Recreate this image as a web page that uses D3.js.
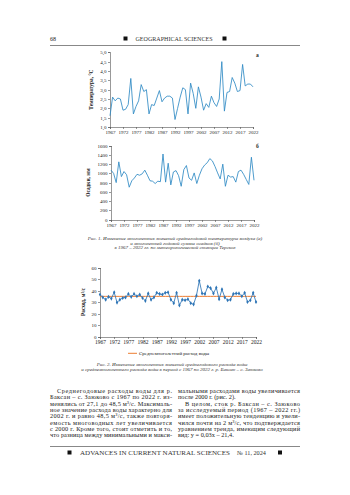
<!DOCTYPE html>
<html lang="ru">
<head>
<meta charset="UTF-8">
<title>Figures 1-2</title>
<script src="https://d3js.org/d3.v7.min.js"></script>
<style>
  body { margin: 0; background: #fff; }
  svg { display: block; background: #fff; font-family: "Liberation Serif", "DejaVu Serif", serif; }
  .axis path, .axis line { stroke: #555; stroke-width: 0.6; shape-rendering: crispEdges; }
  .axis text { fill: #222; font-size: 5px; font-family: "Liberation Serif", serif; }
  .ytitle { font-size: 5.4px; font-weight: bold; fill: #222; }
  .caption { font-size: 5px; font-style: italic; fill: #333; text-anchor: middle; }
  .body { font-size: 6.3px; fill: #222; }
</style>
</head>
<body>
<svg width="350" height="495"></svg>
<script>
// --- data ---
const years = [1967,1968,1969,1970,1971,1972,1973,1974,1975,1976,
  1977,1978,1979,1980,1981,1982,1983,1984,1985,1986,
  1987,1988,1989,1990,1991,1992,1993,1994,1995,1996,
  1997,1998,1999,2000,2001,2002,2003,2004,2005,2006,
  2007,2008,2009,2010,2011,2012,2013,2014,2015,2016,
  2017,2018,2019,2020,2021,2022];
const yearTicks = [1967,1972,1977,1982,1987,1992,1997,2002,2007,2012,2017,2022];

// mean annual air temperature, °C
const temperature = [1.6,2.6,2.4,2.55,2.5,1.9,1.95,2.2,3.6,1.7,
  2.1,2.4,3.27,2.9,3.0,1.7,2.2,2.15,2.55,2.95,
  2.35,2.55,2.65,2.65,2.55,1.4,2.0,2.6,3.1,3.0,
  1.7,3.35,2.8,2.0,3.15,2.6,1.9,2.25,2.05,2.65,
  2.3,2.1,2.5,4.5,1.85,2.85,2.9,3.65,3.35,2.9,
  2.95,4.35,3.2,3.3,3.3,3.15];
const tempTicks = [1.0,1.5,2.0,2.5,3.0,3.5,4.0,4.5,5.0];

// annual precipitation, mm
const precipitation = [1070,1000,800,1250,930,1040,970,700,840,900,
  980,960,990,1070,960,840,830,780,830,820,
  1420,810,1220,750,1030,1060,950,720,1080,1170,
  900,850,1010,780,960,1100,1180,1230,1320,1270,
  1150,1010,880,1200,720,960,920,930,810,1040,
  1070,980,870,760,1350,850];
const precipTicks = [0,200,400,600,800,1000,1200,1400,1600];

// mean annual water discharge, m3/s
const discharge = [36.5,34,32,34.5,33,38.5,29.5,32,33.5,34,
  37,34.5,37,35,36.5,33.5,31,37.5,32,34,
  38,37,36.5,38,38.5,32,29,38,27.1,32,
  31.5,32.5,29,28,35.5,48.5,37.5,37,43.5,42,
  37.5,42.5,32.5,41,34,31.5,32,37,37.5,37.5,
  35,38,30,31.5,38,30];
const dischargeMean = [34.9];
const dischargeTicks = [0,10,20,30,40,50,60];

const svg = d3.select("svg");
const comma = d => d3.format(".1f")(d).replace(".", ",");

// --- page header ---
svg.append("text").attr("class", "body").attr("x", 50).attr("y", 41).style("font-size", "6px").text("68");
svg.append("rect").attr("x", 123.5).attr("y", 36.5).attr("width", 4).attr("height", 4).attr("fill", "#111");
svg.append("text").attr("x", 135.5).attr("y", 41).style("font-size", "6.2px").attr("fill", "#333")
  .attr("textLength", 77).attr("lengthAdjust", "spacingAndGlyphs").text("GEOGRAPHICAL SCIENCES");
svg.append("rect").attr("x", 222.5).attr("y", 36.5).attr("width", 4).attr("height", 4).attr("fill", "#111");
svg.append("line").attr("x1", 50).attr("x2", 300).attr("y1", 45.5).attr("y2", 45.5)
  .attr("stroke", "#888").attr("stroke-width", 1);

// --- generic panel ---
function drawPanel(opt) {
  const x = d3.scaleLinear().domain([1967, 2022]).range([opt.x0, opt.x1]);
  const y = d3.scaleLinear().domain(opt.domain).range([opt.y0, opt.y1]);

  svg.append("g").attr("class", "axis")
    .attr("transform", `translate(${opt.x0},0)`)
    .call(d3.axisLeft(y).tickValues(opt.ticks).tickSize(2).tickPadding(1.5).tickFormat(opt.fmt));

  const xa = svg.append("g").attr("class", "axis")
    .attr("transform", `translate(0,${opt.y0})`)
    .call(d3.axisBottom(x).tickValues(yearTicks).tickSize(2).tickPadding(1.5).tickFormat(d3.format("d")));
  if (opt.xFont) xa.selectAll("text").style("font-size", opt.xFont);

  svg.append("text").attr("class", "ytitle")
    .attr("transform", `translate(${opt.titleX},${(opt.y0 + opt.y1) / 2}) rotate(-90)`)
    .attr("text-anchor", "middle").text(opt.title);

  if (opt.mean) {
    svg.append("path")
      .datum(years)
      .attr("fill", "none").attr("stroke", "#ED7D31").attr("stroke-width", 1)
      .attr("d", d3.line().x(d => x(d)).y(() => y(opt.mean[0])));
  }

  svg.append("path")
    .datum(opt.values)
    .attr("fill", "none").attr("stroke", opt.color).attr("stroke-width", 0.85)
    .attr("stroke-linejoin", "round")
    .attr("d", d3.line().x((d, i) => x(years[i])).y(d => y(d)));

  if (opt.markers) {
    svg.append("g").selectAll("path")
      .data(opt.values)
      .join("path")
      .attr("transform", (d, i) => `translate(${x(years[i])},${y(d)})`)
      .attr("d", d3.symbol(d3.symbolDiamond, 5))
      .attr("fill", opt.color);
  }

  if (opt.letter) {
    svg.append("text").attr("x", opt.letter[0]).attr("y", opt.letter[1])
      .style("font-size", "5.5px").style("font-weight", "bold").attr("fill", "#222").text(opt.letter[2]);
  }
  return { x, y };
}

drawPanel({ values: temperature, domain: [1, 5], ticks: tempTicks, fmt: comma,
  x0: 110, x1: 253, y0: 127, y1: 52.3, title: "Температура, °C", titleX: 93,
  color: "#2F8AC4", letter: [256, 57, "а"] });

drawPanel({ values: precipitation, domain: [0, 1600], ticks: precipTicks, fmt: d3.format("d"),
  x0: 111, x1: 254, y0: 219.5, y1: 145.7, title: "Осадки, мм", titleX: 90,
  color: "#2F8AC4", letter: [256, 148, "б"] });

// caption 1
const cap1 = ["Рис. 1. Изменение многолетних значений среднегодовой температуры воздуха (а)",
  "и многолетней годовой суммы осадков (б)",
  "в 1967 – 2022 гг. по метеорологической станции Терскол"];
svg.append("g").selectAll("text").data(cap1).join("text")
  .attr("class", "caption").attr("x", 175).attr("y", (d, i) => 240 + i * 4.6).text(d => d);

drawPanel({ values: discharge, domain: [0, 60], ticks: dischargeTicks, fmt: d3.format("d"),
  x0: 100, x1: 256, y0: 336.5, y1: 267.5, title: "Расход, м³/с", titleX: 85,
  color: "#2E75B6", markers: true, mean: dischargeMean, xFont: "5.5px" });

// legend
svg.append("line").attr("x1", 128).attr("x2", 137).attr("y1", 353.3).attr("y2", 353.3)
  .attr("stroke", "#ED7D31").attr("stroke-width", 1);
svg.append("text").attr("x", 139).attr("y", 355).style("font-size", "5px").attr("fill", "#222")
  .text("Среднемноголетний расход воды");

// caption 2
const cap2 = ["Рис. 2. Изменение многолетних значений среднегодового расхода воды",
  "и среднемноголетнего расхода воды в период с 1967 по 2022 г. р. Баксан – с. Заюково"];
svg.append("g").selectAll("text").data(cap2).join("text")
  .attr("class", "caption").attr("x", 172).attr("y", (d, i) => 366 + i * 5).text(d => d);

// --- body text, two justified columns ---
const col1 = [
  ["Среднегодовые расходы воды для р.", true, false],
  ["Баксан – с. Заюково с 1967 по 2022 г. из-", false, false],
  ["менялись от 27,1 до 48,5 м³/с. Максималь-", false, false],
  ["ное значение расхода воды характерно для", false, false],
  ["2002 г. и равно 48,5 м³/с, также повторя-", false, false],
  ["емость многоводных лет увеличивается", false, false],
  ["с 2000 г. Кроме того, стоит отметить и то,", false, false],
  ["что разница между минимальными и макси-", false, false]];
const col2 = [
  ["мальными расходами воды увеличивается", false, false],
  ["после 2000 г. (рис. 2).", false, true],
  ["В целом, сток р. Баксан – с. Заюково", true, false],
  ["за исследуемый период (1967 – 2022 гг.)", false, false],
  ["имеет положительную тенденцию и увели-", false, false],
  ["чился почти на 2 м³/с, что подтверждается", false, false],
  ["уравнением тренда, имеющим следующий", false, false],
  ["вид: y = 0,03x – 21,4.", false, true]];

function column(lines, left, width) {
  svg.append("g").selectAll("text").data(lines).join("text")
    .attr("class", "body")
    .attr("x", d => left + (d[1] ? 7 : 0))
    .attr("y", (d, i) => 393 + i * 6.3)
    .each(function (d) {
      if (!d[2]) d3.select(this).attr("textLength", width - (d[1] ? 7 : 0)).attr("lengthAdjust", "spacing");
    })
    .text(d => d[0]);
}
column(col1, 50, 122);
column(col2, 178, 122);

// --- footer ---
svg.append("line").attr("x1", 50).attr("x2", 300).attr("y1", 446.5).attr("y2", 446.5)
  .attr("stroke", "#888").attr("stroke-width", 1);
svg.append("rect").attr("x", 67.5).attr("y", 450.5).attr("width", 4).attr("height", 4).attr("fill", "#111");
svg.append("text").attr("x", 80).attr("y", 455).style("font-size", "6.2px").attr("fill", "#333")
  .attr("textLength", 150).attr("lengthAdjust", "spacingAndGlyphs").text("ADVANCES IN CURRENT NATURAL SCIENCES");
svg.append("text").attr("x", 237).attr("y", 455).style("font-size", "6.2px").attr("fill", "#333")
  .text("№ 11, 2024");
svg.append("rect").attr("x", 278).attr("y", 450.5).attr("width", 4).attr("height", 4).attr("fill", "#111");
</script>
</body>
</html>
